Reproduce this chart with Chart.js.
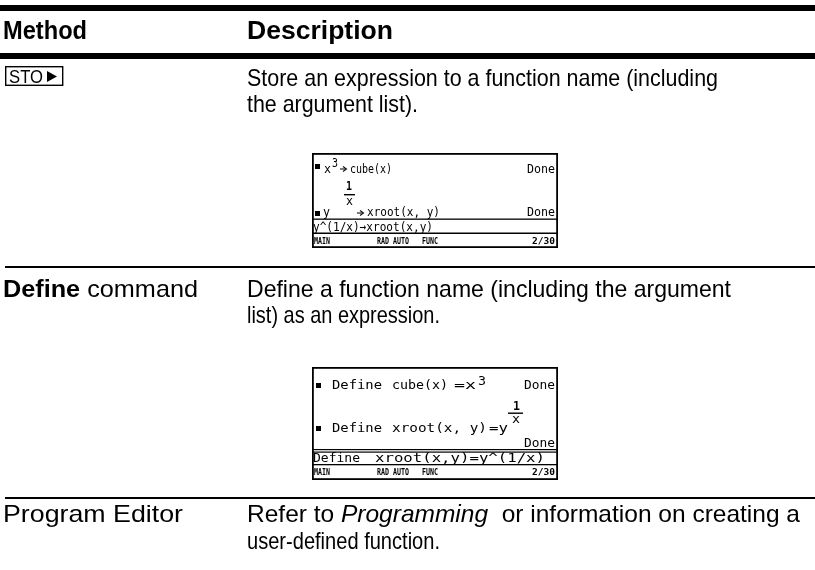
<!DOCTYPE html>
<html><head><meta charset="utf-8">
<script src="https://cdn.jsdelivr.net/npm/chart.js@4"></script>
<style>
html,body{margin:0;padding:0;background:#fff;}
#wrap{position:relative;width:815px;height:570px;overflow:hidden;}
canvas{display:block;}
</style></head><body>
<div id="wrap"><canvas id="c" width="815" height="570"></canvas></div>
<script>
// ---- content ----
const headers = ["Method", "Description"];
const methodCells = [
  [["STO▶", "key"]],
  [["Define", "b"], [" command", "r"]],
  [["Program Editor", "r"]]
];
const descriptions = [
  [[["Store an expression to a function name (including", "r"]], [["the argument list).", "r"]]],
  [[["Define a function name (including the argument", "r"]], [["list) as an expression.", "r"]]],
  [[["Refer to ", "r"], ["Programming", "i"], ["  or information on creating a", "r"]], [["user-defined function.", "r"]]]
];
const screen1History = [["x", "3", "cube(x)", "Done"], ["y", "1", "x", "xroot(x, y)", "Done"]];
const screen1Entry = "y^(1/x)→xroot(x,y)";
const screen2History = [["Define", "cube(x)", "=x", "3", "Done"], ["Define", "xroot(x, y)", "=y", "1", "x", "Done"]];
const screen2Entry = ["Define", "xroot(x,y)=y^(1/x)"];
const statusBar = ["MAIN", "RAD AUTO", "FUNC", "2/30"];

// ---- drawing helpers ----
const SANS = '"Liberation Sans", Arial, sans-serif';
const MONO = '"DejaVu Sans Mono", monospace';
function fontFor(style, size) {
  if (style === 'b') return 'bold ' + size + 'px ' + SANS;
  if (style === 'i') return 'italic ' + size + 'px ' + SANS;
  return size + 'px ' + SANS;
}
function segLine(ctx, segs, x, y, size, targetW) {
  let total = 0;
  segs.forEach(s => { ctx.font = fontFor(s[1], size); total += ctx.measureText(s[0]).width; });
  const k = targetW ? targetW / total : 1;
  ctx.save();
  ctx.translate(x, y);
  ctx.scale(k, 1);
  let cx = 0;
  segs.forEach(s => { ctx.font = fontFor(s[1], size); ctx.fillText(s[0], cx, 0); cx += ctx.measureText(s[0]).width; });
  ctx.restore();
}
function t(ctx, str, x, y, font, w, align) {
  ctx.font = font;
  const m = ctx.measureText(str).width;
  const k = w ? w / m : 1;
  ctx.save();
  ctx.translate(align === 'right' ? x - m * k : x, y);
  ctx.scale(k, 1);
  ctx.fillText(str, 0, 0);
  ctx.restore();
}
function rect(ctx, x, y, w, h) { ctx.fillRect(x, y, w, h); }

function drawScreenFrame(ctx, top, bottom) {
  const L = 312, R = 558;
  ctx.lineWidth = 1.8;
  ctx.strokeStyle = '#000';
  ctx.strokeRect(L + 0.9, top + 0.9, R - L - 1.8, bottom - top - 1.8);
}
function square(ctx, x, y) { ctx.fillRect(x, y, 5, 5); }
function arrow(ctx, x, y) {
  ctx.save();
  ctx.lineWidth = 1.1; ctx.strokeStyle = '#111';
  ctx.beginPath(); ctx.moveTo(x, y); ctx.lineTo(x + 6, y); ctx.stroke();
  ctx.beginPath(); ctx.moveTo(x + 3, y - 2.5); ctx.lineTo(x + 6.5, y); ctx.lineTo(x + 3, y + 2.5); ctx.stroke();
  ctx.restore();
}
function statusLine(ctx, base) {
  const f = 'bold 8px ' + MONO;
  t(ctx, statusBar[0], 314, base, f, 16);
  t(ctx, statusBar[1], 377, base, f, 32);
  t(ctx, statusBar[2], 422, base, f, 16);
  t(ctx, statusBar[3], 555, base, f, 23, 'right');
}

function drawTable(ctx) {
  ctx.save();
  ctx.fillStyle = '#fff';
  ctx.fillRect(0, 0, 815, 570);
  ctx.fillStyle = '#000';
  ctx.textBaseline = 'alphabetic';
  // heavy rules
  rect(ctx, 0, 5, 815, 6);
  rect(ctx, 0, 53, 815, 6);
  // thin rules between rows
  rect(ctx, 5, 266, 810, 2);
  rect(ctx, 5, 497, 810, 2);
  // header
  t(ctx, headers[0], 3, 39, 'bold 25px ' + SANS, 84);
  t(ctx, headers[1], 247, 39, 'bold 25px ' + SANS, 146);

  // row 1 method: STO key
  ctx.lineWidth = 1.4;
  ctx.strokeRect(5.7, 66.7, 57, 18.6);
  t(ctx, "STO", 9, 82.5, '18px ' + SANS, 34);
  ctx.beginPath(); ctx.moveTo(47, 71); ctx.lineTo(57, 76.5); ctx.lineTo(47, 82); ctx.closePath(); ctx.fill();

  // row descriptions
  const base = [[86, 112], [297, 323], [522, 549]];
  const widths = [[471, 171], [484, 193], [553, 193]];
  descriptions.forEach((lines, r) => {
    lines.forEach((segs, j) => segLine(ctx, segs, 247, base[r][j], 24, widths[r][j]));
  });
  segLine(ctx, methodCells[1], 3, 297, 24, 195);
  segLine(ctx, methodCells[2], 3, 522, 24, 180);

  // ---- screen 1 ----
  drawScreenFrame(ctx, 153, 248);
  const mf = '13px ' + MONO;
  square(ctx, 315, 164);
  t(ctx, screen1History[0][0], 324, 173, mf, 7);
  t(ctx, screen1History[0][1], 332, 167, '12px ' + MONO, 6);
  arrow(ctx, 340, 169);
  t(ctx, screen1History[0][2], 350, 173, mf, 42);
  t(ctx, screen1History[0][3], 555, 173, mf, 28, 'right');
  t(ctx, screen1History[1][1], 346, 190, 'bold 12px ' + MONO, 6);
  rect(ctx, 344, 194, 11, 1.4);
  t(ctx, screen1History[1][2], 346, 205, '12px ' + MONO, 7);
  square(ctx, 315, 211);
  t(ctx, screen1History[1][0], 323, 216, mf, 7);
  arrow(ctx, 357, 213);
  t(ctx, screen1History[1][3], 367, 216, mf, 73);
  t(ctx, screen1History[1][4], 555, 216, mf, 28, 'right');
  rect(ctx, 312, 218.5, 246, 1.3);
  t(ctx, screen1Entry, 313, 230.5, mf, 120);
  rect(ctx, 312, 232.5, 246, 1.5);
  statusLine(ctx, 243.5);

  // ---- screen 2 ----
  drawScreenFrame(ctx, 367, 480);
  square(ctx, 316, 383);
  t(ctx, screen2History[0][0], 332, 389, mf, 50);
  t(ctx, screen2History[0][1], 392, 389, mf, 56);
  t(ctx, screen2History[0][2], 454, 389, mf, 22);
  t(ctx, screen2History[0][3], 478, 385, '13px ' + MONO, 8);
  t(ctx, screen2History[0][4], 555, 389, mf, 31, 'right');
  t(ctx, screen2History[1][3], 513, 410, 'bold 12px ' + MONO, 7);
  rect(ctx, 508, 412.5, 15, 1.4);
  t(ctx, screen2History[1][4], 512, 423, '12px ' + MONO, 8);
  square(ctx, 316, 426);
  t(ctx, screen2History[1][0], 332, 432, mf, 50);
  t(ctx, screen2History[1][1], 392, 432, mf, 95);
  t(ctx, screen2History[1][2], 489, 432, mf, 19);
  t(ctx, screen2History[1][5], 555, 447, mf, 31, 'right');
  rect(ctx, 312, 449, 246, 1.2);
  rect(ctx, 312, 451.5, 246, 1.2);
  t(ctx, screen2Entry[0], 313, 462, mf, 47);
  t(ctx, screen2Entry[1], 375, 462, mf, 170);
  rect(ctx, 312, 464, 246, 1.3);
  statusLine(ctx, 474.5);
  ctx.restore();
}

const tablePlugin = { id: 'tablePage', afterDraw(chart) { drawTable(chart.ctx); } };

new Chart(document.getElementById('c'), {
  type: 'scatter',
  data: { datasets: [] },
  options: {
    responsive: false,
    animation: false,
    devicePixelRatio: 1,
    events: [],
    plugins: { legend: { display: false }, tooltip: { enabled: false } },
    scales: { x: { display: false }, y: { display: false } }
  },
  plugins: [tablePlugin]
});
</script>
</body></html>
